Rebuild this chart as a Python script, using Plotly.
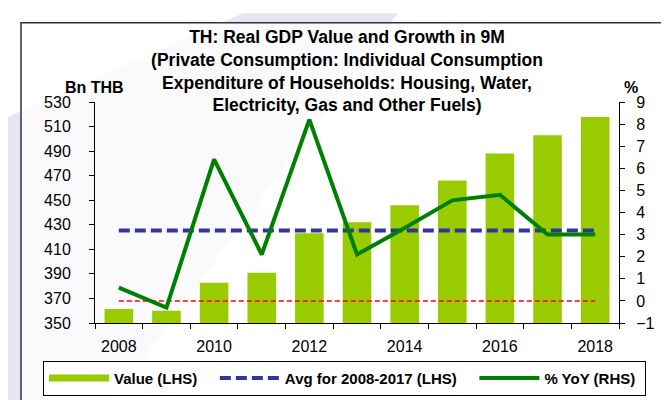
import plotly.graph_objects as go

years = [2008, 2009, 2010, 2011, 2012, 2013, 2014, 2015, 2016, 2017, 2018]
value_bn = [361.5, 360.0, 382.8, 391.0, 423.0, 432.0, 446.0, 466.0, 488.0, 503.0, 517.7]
yoy_pct = [0.6, -0.3, 6.4, 2.1, 8.2, 2.1, 3.3, 4.55, 4.8, 3.0, 3.0]
tick_years = [2008, 2010, 2012, 2014, 2016, 2018]

avg_years = [y for y in years if y <= 2017]
avg_value = sum(v for y, v in zip(years, value_bn) if y <= 2017) / len(avg_years)

bar_green = '#99CC00'
line_green = '#008000'
avg_blue = '#333399'
font_family = 'Liberation Sans, Arial, sans-serif'
nb = '\u00a0'

# plot area in pixels (669x400 canvas)
L, R, T, B = 87, 611, 94, 328
W, H = 669, 400


def px(x):
    return (x - L) / (R - L)


def py(y):
    return (B - y) / (B - T)


fig = go.Figure()

fig.add_trace(go.Bar(x=years, y=value_bn, width=0.6, marker_color=bar_green,
                     marker_line_width=0, showlegend=False, name='Value (LHS)'))

# legend proxy for bars (wide flat swatch like the original)
fig.add_trace(go.Scatter(x=[None], y=[None], mode='lines', name='Value (LHS)' + nb * 3,
                         line=dict(color=bar_green, width=7)))

fig.add_trace(go.Scatter(x=years, y=[avg_value] * len(years), mode='lines',
                         name='Avg for 2008-2017 (LHS)' + nb * 3,
                         line=dict(color=avg_blue, width=4, dash='11px,5px')))

fig.add_trace(go.Scatter(x=years, y=[0] * len(years), mode='lines', yaxis='y2',
                         showlegend=False, hoverinfo='skip',
                         line=dict(color='#FF0000', width=1.5, dash='5px,3px')))

fig.add_trace(go.Scatter(x=years, y=yoy_pct, mode='lines', yaxis='y2',
                         name='% YoY (RHS)' + nb,
                         line=dict(color=line_green, width=4)))

# watermark band + chart frame
shapes = [
    dict(type='path', xref='paper', yref='paper', layer='below',
         path='M {} {} L {} {} L {} {} L {} {} Z'.format(px(235), py(0), px(390), py(0),
                                                      px(0), py(560), px(0), py(110)),
         fillcolor='#E4E6F2', line_width=0),
    dict(type='rect', xref='paper', yref='paper', layer='below',
         x0=px(13), x1=px(663), y0=py(10), y1=py(420),
         fillcolor='rgba(255,255,255,0.8)', line=dict(color='#333333', width=1.5)),
]

annotations = [
    dict(text='<b>Bn THB</b>', xref='paper', yref='paper', x=px(55), y=py(68),
         showarrow=False, font=dict(size=16, color='black', family=font_family)),
    dict(text='<b>%</b>', xref='paper', yref='paper', x=px(632), y=py(68),
         showarrow=False, font=dict(size=16, color='black', family=font_family)),
]

fig.update_layout(
    width=W, height=H,
    margin=dict(l=L, r=W - R, t=T, b=H - B, pad=0),
    paper_bgcolor='white',
    plot_bgcolor='rgba(0,0,0,0)',
    font=dict(family=font_family, color='black', size=16),
    title=dict(text='<b>TH: Real GDP Value and Growth in 9M<br>'
                    '(Private Consumption: Individual Consumption<br>'
                    'Expenditure of Households: Housing, Water,<br>'
                    'Electricity, Gas and Other Fuels)</b>',
               x=339 / W, xanchor='center', xref='container',
               y=1 - 35 / H, yanchor='top', yref='container',
               font=dict(size=17.5, color='black', family=font_family)),
    xaxis=dict(range=[2007.5, 2018.5], tickmode='array', tickvals=tick_years,
               ticks='', showline=True, linecolor='black', linewidth=1,
               showgrid=False, zeroline=False, ticklabelstandoff=9,
               tickfont=dict(size=16),
               minor=dict(tickmode='linear', tick0=2007.5, dtick=1, ticks='outside',
                          ticklen=5, tickcolor='black', showgrid=False)),
    yaxis=dict(range=[350, 530], tick0=350, dtick=20, ticks='outside', ticklen=5,
               tickcolor='black', showline=True, linecolor='black', linewidth=1,
               showgrid=False, zeroline=False, tickfont=dict(size=16),
               ticklabelstandoff=15),
    yaxis2=dict(range=[-1, 9], dtick=1, overlaying='y', side='right',
                ticks='outside', ticklen=5, tickcolor='black', showline=True,
                linecolor='black', linewidth=1, showgrid=False, zeroline=False,
                tickfont=dict(size=16), ticklabelstandoff=8),
    legend=dict(orientation='h', x=px(35), y=py(368), xanchor='left', yanchor='top',
                bordercolor='black', borderwidth=1, bgcolor='white',
                font=dict(size=15, color='black', family=font_family, weight='bold'),
                itemwidth=60, tracegroupgap=0),
    shapes=shapes,
    annotations=annotations,
    bargap=0.4,
    showlegend=True,
)

fig.write_html('out.html')
